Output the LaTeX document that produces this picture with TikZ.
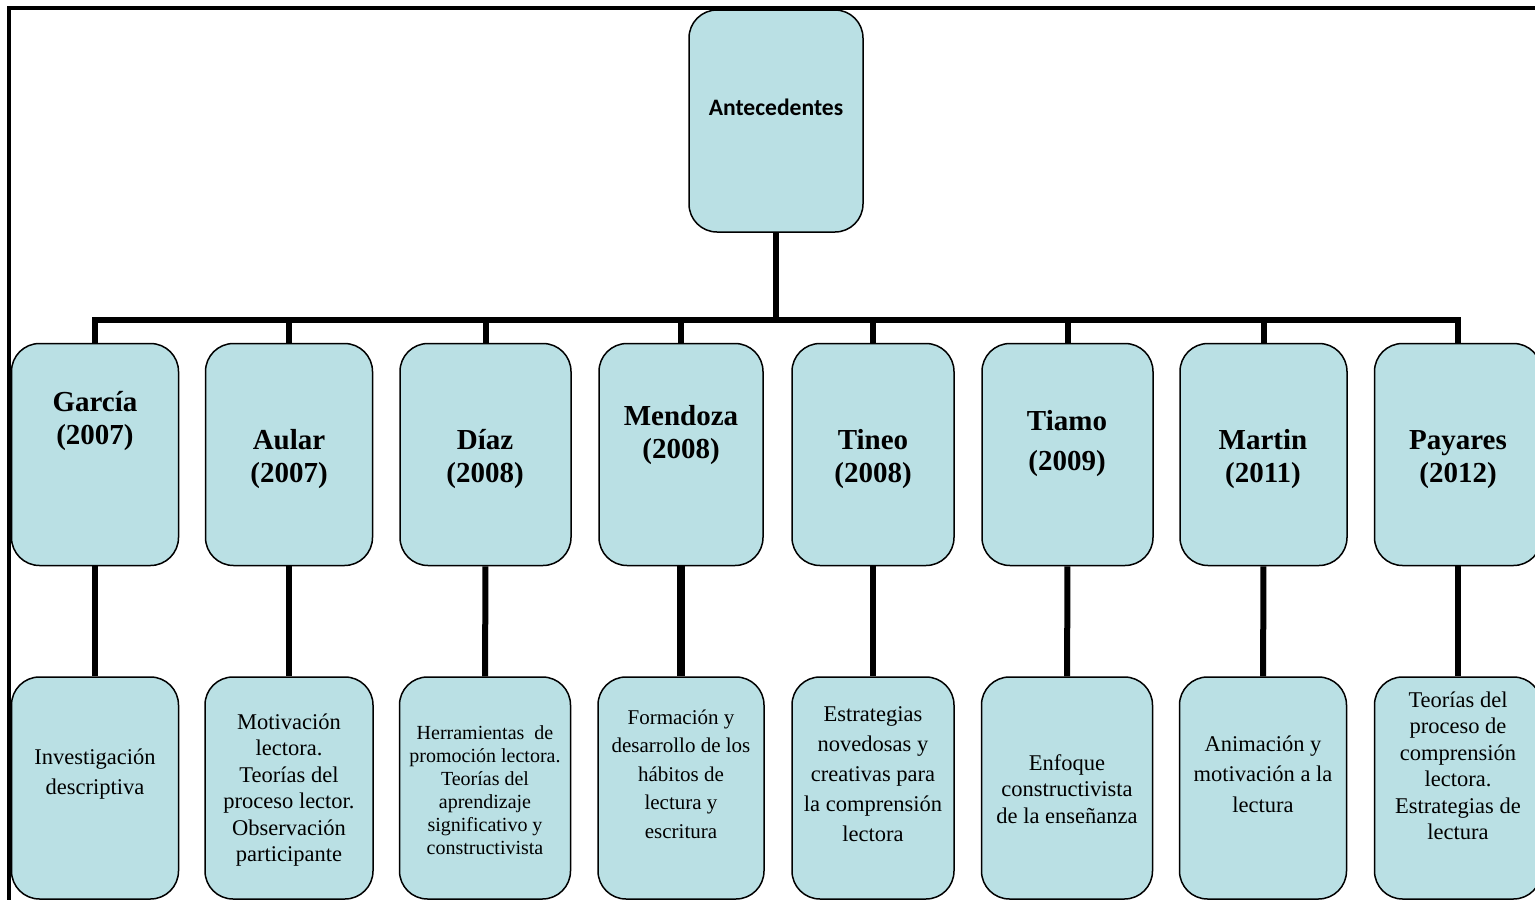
\documentclass[tikz,border=0pt]{standalone}
\usepackage{fontspec}
\setmainfont{Liberation Serif}
\newfontfamily\calibri{Carlito}
\definecolor{boxblue}{RGB}{186,224,228}
\tikzstyle{box}=[draw,fill=boxblue,line width=1.5pt,rounded corners=28pt,inner sep=0pt,minimum height=222pt]
\tikzstyle{link}=[line width=6pt]
\tikzstyle{author}=[font={\fontsize{29}{33}\selectfont\bfseries},align=center,inner sep=0pt]
\tikzstyle{topic}=[font={\fontsize{22.5}{26.5}\selectfont},align=center,inner sep=0pt]

\begin{document}
\begin{tikzpicture}[x=1pt,y=-1pt]
\useasboundingbox (0,0) rectangle (1535,900);
\clip (0,0) rectangle (1535,900);

% frame
\draw[line width=4pt] (9,900) -- (9,8) -- (1535,8);

\node[box,minimum width=174pt] (0) at (776,121) {};
\node[font={\calibri\fontsize{23.6}{28}\selectfont\bfseries}] (t0) at (776,107) {Antecedentes};

\node[box,minimum width=167pt] (1) at (95,454.5)   {};
\node[box,minimum width=167pt] (2) at (289,454.5)  {};
\node[box,minimum width=171pt] (3) at (485.5,454.5) {};
\node[box,minimum width=164pt] (4) at (681,454.5)  {};
\node[box,minimum width=162pt] (5) at (873,454.5)  {};
\node[box,minimum width=171pt] (6) at (1067.5,454.5) {};
\node[box,minimum width=167pt] (7) at (1263.5,454.5) {};
\node[box,minimum width=167pt] (8) at (1458,454.5) {};

\node[box,minimum width=167pt] (11) at (95,788)   {};
\node[box,minimum width=168pt] (22) at (289,788)  {};
\node[box,minimum width=171pt] (33) at (485,788)  {};
\node[box,minimum width=166pt] (44) at (681,788)  {};
\node[box,minimum width=162pt] (55) at (873,788)  {};
\node[box,minimum width=171pt] (66) at (1067,788) {};
\node[box,minimum width=167pt] (77) at (1263,788) {};
\node[box,minimum width=167pt] (88) at (1458,788) {};

% connectors
\coordinate (bus) at (776,319.5);
\draw[link] (0) -- (bus);
\draw[link] (1) |- (bus) -| (8);
\draw[link] (2) -- (2 |- bus);
\draw[link] (3) -- (3 |- bus);
\draw[link] (4) -- (4 |- bus);
\draw[link] (5) -- (5 |- bus);
\draw[link] (6) -- (6 |- bus);
\draw[link] (7) -- (7 |- bus);

\draw[link] (1) -- (11);
\draw[link] (2) -- (22);
\draw[link] (3) -- (33);
\draw[link,line width=8pt] (4) -- (44);
\draw[link] (5) -- (55);
\draw[link] (6) -- (66);
\draw[link] (7) -- (77);
\draw[link] (8) -- (88);

\node[author] (t1) at (95,421.5) {García\\(2007)};
\node[author] (t2) at (289,459)  {Aular\\(2007)};
\node[author] (t3) at (485,459)  {Díaz\\(2008)};
\node[author] (t4) at (681,435)  {Mendoza\\(2008)};
\node[author] (t5) at (873,459)  {Tineo\\(2008)};
\node[author] (t6) at (1067,443.5) {Tiamo\\[7pt](2009)};
\node[author] (t7) at (1263,459) {Martin\\(2011)};
\node[author] (t8) at (1458,459.5) {Payares\\(2012)};

\node[topic,font={\fontsize{22.5}{30}\selectfont}] (t11) at (95,774) {Investigación\\descriptiva};
\node[topic] (t22) at (289,790) {Motivación\\lectora.\\Teorías del\\proceso lector.\\Observación\\participante};
\node[topic,font={\fontsize{20}{23}\selectfont}] (t33) at (485,790) {Herramientas~ de\\promoción lectora.\\Teorías del\\aprendizaje\\significativo y\\constructivista};
\node[topic,font={\fontsize{21}{28.5}\selectfont}] (t44) at (681,774) {Formación y\\desarrollo de los\\hábitos de\\lectura y\\escritura};
\node[topic,font={\fontsize{22.5}{30}\selectfont}] (t55) at (873,774) {Estrategias\\novedosas y\\creativas para\\la comprensión\\lectora};
\node[topic] (t66) at (1067,789) {Enfoque\\constructivista\\de la enseñanza};
\node[topic,font={\fontsize{22.5}{30.5}\selectfont}] (t77) at (1263,774) {Animación y\\motivación a la\\lectura};
\node[topic] (t88) at (1458,766) {Teorías del\\proceso de\\comprensión\\lectora.\\Estrategias de\\lectura};

\end{tikzpicture}
\end{document}
